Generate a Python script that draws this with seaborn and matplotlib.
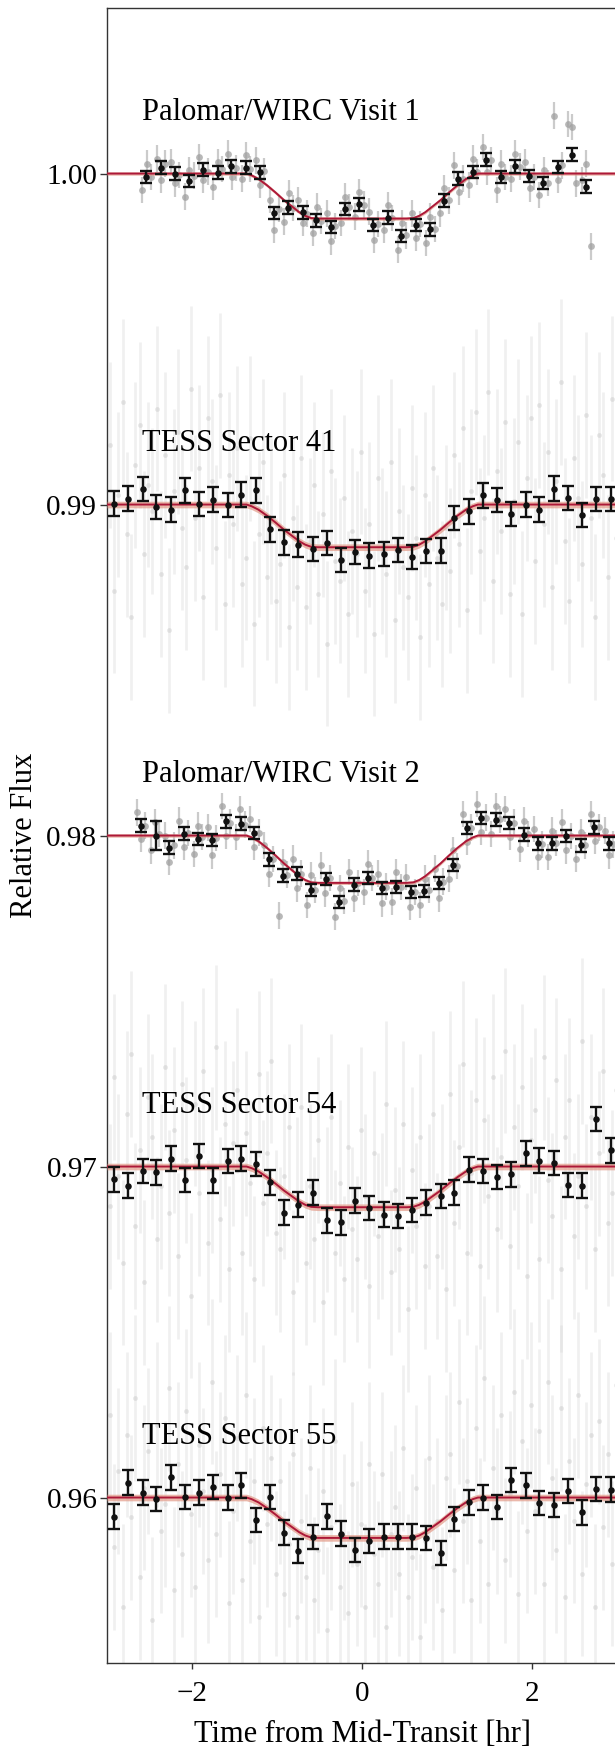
import numpy as np
import pandas as pd
import matplotlib
matplotlib.use("Agg")
import matplotlib.pyplot as plt
import seaborn as sns

sns.set_theme(style="ticks")
plt.rcParams["font.family"] = ["Liberation Serif", "DejaVu Serif"]
plt.rcParams["text.color"] = "black"
plt.rcParams["axes.labelcolor"] = "black"
plt.rcParams["xtick.labelcolor"] = "black"
plt.rcParams["ytick.labelcolor"] = "black"

# one entry per light curve, top to bottom
names = ["Palomar/WIRC Visit 1", "TESS Sector 41", "Palomar/WIRC Visit 2",
         "TESS Sector 54", "TESS Sector 55"]
offsets = [1.00, 0.99, 0.98, 0.97, 0.96]
depths = [0.00136, 0.00129, 0.00143, 0.00123, 0.00122]
band_halfwidth = [0.00005, 0.0001, 0.00005, 0.0001, 0.0001]

# transit model shape (fraction of depth) vs time [hr]
model_t = [-3.0, -1.36, -1.30, -1.22, -1.12, -1.02, -0.92, -0.82, -0.74, -0.67, -0.60, -0.52,
           0.52, 0.60, 0.67, 0.74, 0.82, 0.92, 1.02, 1.12, 1.22, 1.30, 1.36, 3.0]
model_shape = [0, 0, 0.04, 0.12, 0.26, 0.42, 0.59, 0.74, 0.86, 0.94, 0.99, 1.0,
               1.0, 0.99, 0.94, 0.86, 0.74, 0.59, 0.42, 0.26, 0.12, 0.04, 0, 0]

# binned (10 min) points
pal1_bin_t = [-2.54, -2.37, -2.20, -2.04, -1.87, -1.70, -1.54, -1.37, -1.20, -1.04, -0.87,
              -0.70, -0.54, -0.37, -0.20, -0.04, 0.13, 0.30, 0.46, 0.63, 0.80, 0.96, 1.13,
              1.30, 1.46, 1.63, 1.80, 1.96, 2.13, 2.30, 2.46, 2.63]
pal1_bin_f = [0.99990, 1.00018, 1.00000, 0.99978, 1.00012, 1.00003, 1.00022, 1.00018,
              1.00004, 0.99881, 0.99897, 0.99883, 0.99859, 0.99839, 0.99893, 0.99907,
              0.99844, 0.99867, 0.99811, 0.99844, 0.99831, 0.99918, 0.99985, 1.00005,
              1.00042, 0.99990, 1.00022, 0.99993, 0.99972, 1.00020, 1.00057, 0.99960]
pal1_bin_e = [0.00019] * 32

pal2_bin_t = [-2.60, -2.43, -2.27, -2.10, -1.93, -1.77, -1.60, -1.43, -1.27, -1.10, -0.93,
              -0.77, -0.60, -0.43, -0.27, -0.10, 0.07, 0.23, 0.40, 0.57, 0.73, 0.90, 1.07,
              1.23, 1.40, 1.57, 1.73, 1.90, 2.07, 2.23, 2.40, 2.57, 2.73, 2.90]
pal2_bin_f = [0.98030, 0.98000, 0.97963, 0.98006, 0.97990, 0.97986, 0.98043, 0.98036,
              0.98008, 0.97928, 0.97879, 0.97885, 0.97835, 0.97869, 0.97799, 0.97852,
              0.97872, 0.97842, 0.97845, 0.97830, 0.97832, 0.97857, 0.97911, 0.98023,
              0.98053, 0.98048, 0.98038, 0.98003, 0.97976, 0.97976, 0.97998, 0.97970,
              0.98025, 0.97976]
pal2_bin_e = [0.00019, 0.00045] + [0.00019] * 32

tess_bin_t = [-2.92, -2.75, -2.58, -2.42, -2.25, -2.08, -1.92, -1.75, -1.58, -1.42, -1.25,
              -1.08, -0.92, -0.75, -0.58, -0.42, -0.25, -0.08, 0.08, 0.25, 0.42, 0.58,
              0.75, 0.92, 1.08, 1.25, 1.42, 1.58, 1.75, 1.92, 2.08, 2.25, 2.42, 2.58,
              2.75, 2.92]
s41_bin_f = [0.99003, 0.99018, 0.99047, 0.98993, 0.98985, 0.99043, 0.99002, 0.99015,
             0.98999, 0.99030, 0.99043, 0.98925, 0.98886, 0.98879, 0.98866, 0.98884,
             0.98832, 0.98856, 0.98846, 0.98851, 0.98862, 0.98842, 0.98859, 0.98861,
             0.98960, 0.98979, 0.99028, 0.99013, 0.98971, 0.99000, 0.98985, 0.99048,
             0.99020, 0.98968, 0.99017, 0.99017]
s54_bin_f = [0.96961, 0.96942, 0.96986, 0.96982, 0.97024, 0.96959, 0.97032, 0.96958,
             0.97017, 0.97024, 0.97008, 0.96952, 0.96861, 0.96885, 0.96921, 0.96837,
             0.96831, 0.96897, 0.96875, 0.96855, 0.96851, 0.96868, 0.96891, 0.96911,
             0.96921, 0.96991, 0.96986, 0.96969, 0.96976, 0.97040, 0.97018, 0.97011,
             0.96944, 0.96942, 0.97143, 0.97049]
s55_bin_f = [0.95942, 0.96045, 0.96015, 0.95995, 0.96061, 0.96002, 0.96015, 0.96032,
             0.96000, 0.96037, 0.95932, 0.96002, 0.95894, 0.95838, 0.95881, 0.95943,
             0.95891, 0.95841, 0.95868, 0.95882, 0.95882, 0.95882, 0.95878, 0.95832,
             0.95935, 0.95985, 0.96000, 0.95971, 0.96053, 0.96037, 0.95983, 0.95977,
             0.96019, 0.95955, 0.96025, 0.96024]
tess_bin_e = [0.00037] * 36

# unbinned Palomar points: time [min], flux offset from baseline [ppm]
pal1_raw_min = [-155, -152, -149, -145, -142, -139, -135, -132, -129, -125, -122, -119,
                -115, -112, -109, -105, -102, -99, -95, -92, -89, -85, -82, -79, -75, -72,
                -69, -65, -62, -59, -55, -52, -49, -45, -42, -39, -35, -32, -29, -25, -22,
                -19, -15, -12, -9, -5, -2, 1, 5, 8, 11, 15, 18, 21, 25, 28, 31, 35, 38, 41,
                45, 48, 51, 55, 58, 61, 65, 68, 71, 75, 78, 81, 85, 88, 91, 95, 98, 101,
                105, 108, 111, 115, 118, 121, 125, 128, 131, 135, 138, 141, 145, 148, 151,
                155, 158, 161]
pal1_raw_ppm = [-500, 300, -100, 450, -200, 300, 350, -300, -50, -700, 100, -60,
                500, -200, 60, -400, 350, 140, 600, -100, 160, -150, 550, 140,
                400, -350, 70, -800, -1700, -1070, -1450, -600, -1040, -800, -1500, -1210,
                -1800, -1000, -1430, -1200, -2050, -1580, -1500, -700, -1010, -1300, -550, -940,
                -1150, -2000, -1530, -1700, -950, -1340, -2300, -1500, -1870, -1200, -1950, -1530,
                -2100, -1300, -1670, -1200, -450, -810, 250, -550, -150, -350, 450, 50,
                800, 50, 410, -500, 300, -100, -150, 600, 210, 350, -450, -110,
                -650, 100, -290, 1750, -200, 250, 1500, 1400, -300, -200, 300, -2200]

pal2_raw_min = [-159, -156, -153, -149, -146, -143, -139, -136, -133, -129, -126, -123,
                -119, -116, -113, -109, -106, -103, -99, -96, -93, -89, -86, -83, -79, -76,
                -73, -69, -66, -63, -59, -56, -53, -49, -46, -43, -39, -36, -33, -29, -26,
                -23, -19, -16, -13, -9, -6, -3, 1, 4, 7, 11, 14, 17, 21, 24, 27, 31, 34, 37,
                41, 44, 47, 51, 54, 57, 61, 64, 67, 71, 74, 77, 81, 84, 87, 91, 94, 97, 101,
                104, 107, 111, 114, 117, 121, 124, 127, 131, 134, 137, 141, 144, 147, 151,
                154, 157, 161, 164, 167, 171, 174, 177]
pal2_raw_ppm = [700, -100, 300, -450, 400, 50, 0, -800, -300, 450, -350, 80,
                -550, 300, -50, 250, -600, -70, 900, 0, 390, -50, 800, 330,
                500, -350, 90, -300, -1150, -710, -2420, -800, -1180, -700, -1600, -1150,
                -2100, -1200, -1650, -900, -1750, -1280, -2450, -1600, -1980, -1100, -1900, -1440,
                -1700, -850, -1290, -1150, -2050, -1540, -2000, -1100, -1550, -1250, -2150, -1700,
                -2100, -1300, -1640, -1000, -1900, -1390, -1300, -450, -920, 650, -200, 240,
                950, 100, 540, 50, 900, 490, 800, -50, 390, -400, 450, 40,
                200, -650, -270, -650, 150, -220, 400, -450, -10, -700, 100, -300,
                650, -150, 250, 150, -600, -270]

# unbinned TESS points (shared time grid), flux offset from baseline [ppm]
tess_raw_min = [-178, -175, -172, -169, -166, -163, -160, -157, -154, -151, -148, -145,
                -142, -139, -136, -133, -130, -127, -124, -121, -118, -115, -112, -109,
                -106, -103, -100, -97, -94, -91, -88, -85, -82, -79, -76, -73, -70, -67,
                -64, -61, -58, -55, -52, -49, -46, -43, -40, -37, -34, -31, -28, -25, -22,
                -19, -16, -13, -10, -7, -4, -1, 2, 5, 8, 11, 14, 17, 20, 23, 26, 29, 32, 35,
                38, 41, 44, 47, 50, 53, 56, 59, 62, 65, 68, 71, 74, 77, 80, 83, 86, 89, 92,
                95, 98, 101, 104, 107, 110, 113, 116, 119, 122, 125, 128, 131, 134, 137,
                140, 143, 146, 149, 152, 155, 158, 161, 164, 167, 170, 173, 176, 179]
s41_raw_ppm = [1800, -2600, 300, 3100, -900, -3400, 1200, 2400, -1500, 600, -200, 2900,
               -2100, 1500, -3800, 400, 2200, -700, -1900, 3500, -400, 1100, -2800, 2600,
               700, -1300, 3300, -3000, 900, -600, 1700, -2400, -1600, 2000, -3600, -900,
               1300, -2200, -500, -2900, -1800, 900, -3700, -400, -2500, 1400, -3100, -1100,
               600, -2700, -300, -4200, 1000, -1700, -2300, 200, -3300, -800, -1500, 1600,
               -2600, -600, -3900, 800, -1400, -2100, 1300, -3500, -200, -1900, -2800, 500,
               -1000, -4000, 300, -2400, 1100, -1600, -3000, -700, -2000, 1500, -1200, 2300,
               -3200, 400, 2800, -1400, -400, 3400, -2300, 1000, -800, 2500, -2700, 100,
               1900, -3300, 800, 2600, -1700, 3000, -600, 1600, -2500, 700, 3700, -1100,
               -2900, 1400, 200, -1800, 2700, -400, -3400, 2100, 900, -2200, 3200, -1000]
s54_raw_ppm = [-1200, 2700, -300, -2900, 1600, 3400, -1800, 500, -3500, 2100, 900, -2200,
               -600, 3000, -1400, 1100, -2700, 2500, 200, -3900, 1900, -800, 2900, -2300,
               -100, 3600, -1600, 1300, -3100, 700, 2300, -2600, 1000, -500, -3400, 2800,
               -1100, 400, 3200, -2000, -2500, -300, 1200, -3800, -1000, 1800, -2900, -600,
               -2200, 800, -4100, -1300, 1500, -2600, -500, -3400, 600, -1900, -2800, 1100,
               -900, -3600, 400, -2100, -1500, 1900, -3200, -700, -2500, 1300, -4300, -100,
               -1800, 900, -3000, -1200, 1600, -2700, -600, -3700, 2200, -1700, 600, 3100,
               -2600, -200, 2000, -3000, 1400, -900, 2700, -1900, 300, 3500, -2400, 1200,
               -600, 2400, -3300, 800, 1700, -2800, 3300, -400, -1500, 2600, -3100, 900,
               2000, -2100, -300, 3800, -1200, 1500, -2500, 400, 2900, -1700, -800, 2300]
s55_raw_ppm = [2500, -1500, 800, -3300, 1900, -600, 3000, -2400, 300, 1400, -3700, 2200,
               -1000, -200, 3300, -2800, 1000, -1700, 2600, -500, -2700, 1600, 200, -1900,
               3500, -1100, 700, 2400, -3200, -400, 1800, -2500, 3100, -1300, 500, -3600,
               2100, -800, 1200, -2300, 500, -2900, -1400, 1300, -3600, -700, -2400, 900,
               -3100, -1600, 200, -4000, -900, 1700, -2700, -1200, -3500, 400, -2000, -800,
               -3300, 1000, -1700, -2600, 700, -3900, -1100, -300, -2300, 1500, -3000, -1800,
               300, -4200, -1300, 1200, -2100, -700, -3400, 600, 1300, -2200, 2900, -700,
               500, -3100, 2100, -1300, 3600, -2600, 900, -400, 2500, -1900, 100, 3200,
               -2900, 1700, -1000, 2800, -400, 2000, -2600, 3500, 600, -1600, 2700, -3000,
               1100, -700, 3100, -2300, 400, 1900, -3300, 2300, -900, 1300, -2000, 3400]
pal_raw_err = 0.0004
tess_raw_err = 0.0025

bin_t = [pal1_bin_t, tess_bin_t, pal2_bin_t, tess_bin_t, tess_bin_t]
bin_f = [pal1_bin_f, s41_bin_f, pal2_bin_f, s54_bin_f, s55_bin_f]
bin_e = [pal1_bin_e, tess_bin_e, pal2_bin_e, tess_bin_e, tess_bin_e]
raw_min = [pal1_raw_min, tess_raw_min, pal2_raw_min, tess_raw_min, tess_raw_min]
raw_ppm = [pal1_raw_ppm, s41_raw_ppm, pal2_raw_ppm, s54_raw_ppm, s55_raw_ppm]
is_tess = [False, True, False, True, True]

line_red = "#ad1838"
band_col = "#e39a88"

fig = plt.figure(figsize=(6.15, 17.5), dpi=100)
ax = fig.add_axes([0.174, 0.0497, 0.83, 0.9457])

for i in range(len(names)):
    off = offsets[i]
    raw = pd.DataFrame({"t": np.array(raw_min[i]) / 60.0,
                        "f": off + np.array(raw_ppm[i]) * 1e-6})
    if is_tess[i]:
        ax.errorbar(raw["t"], raw["f"], yerr=tess_raw_err, fmt="none",
                    ecolor="#cfcfcf", elinewidth=2.0, alpha=0.3, zorder=1)
        sns.scatterplot(data=raw, x="t", y="f", ax=ax, color="#b4b4b4", s=12,
                        alpha=0.3, linewidth=0, zorder=1)
    else:
        ax.errorbar(raw["t"], raw["f"], yerr=pal_raw_err, fmt="none",
                    ecolor="#c6c6c6", elinewidth=1.6, alpha=0.9, zorder=2)
        sns.scatterplot(data=raw, x="t", y="f", ax=ax, color="#a0a0a0", s=24,
                        alpha=0.75, linewidth=0, zorder=2)

for i in range(len(names)):
    off = offsets[i]
    mt = np.array(model_t)
    mf = off - depths[i] * np.array(model_shape)
    ax.fill_between(mt, mf - band_halfwidth[i], mf + band_halfwidth[i],
                    color=band_col, alpha=0.7, linewidth=0, zorder=3)
    sns.lineplot(x=mt, y=mf, ax=ax, color=line_red, linewidth=1.4, zorder=4)

    b = pd.DataFrame({"t": bin_t[i], "f": bin_f[i], "e": bin_e[i]})
    ax.errorbar(b["t"], b["f"], yerr=b["e"], fmt="none", ecolor="#111111",
                elinewidth=1.7, capsize=4.5, capthick=1.7, zorder=5)
    sns.scatterplot(data=b, x="t", y="f", ax=ax, color="#111111", s=22,
                    linewidth=0, zorder=6)

    ax.text(-2.59, off + 0.00183, names[i], fontsize=22, ha="left", va="center",
            zorder=7)

ax.set_xlim(-3, 3)
ax.set_ylim(0.955, 1.005)
ax.set_xticks([-2, 0, 2])
ax.set_yticks(offsets)
ax.set_yticklabels(["1.00", "0.99", "0.98", "0.97", "0.96"])
ax.tick_params(axis="y", direction="out", length=5, width=1, pad=2, labelsize=21,
               color="#333333")
ax.tick_params(axis="x", direction="out", length=4, width=1, pad=9, labelsize=21,
               color="#333333")
for sp in ax.spines.values():
    sp.set_color("#333333")
    sp.set_linewidth(1)
ax.set_xlabel("Time from Mid-Transit [hr]", fontsize=22, labelpad=9)
ax.set_ylabel("Relative Flux", fontsize=22, labelpad=5)

fig.savefig("out.png", dpi=100)
